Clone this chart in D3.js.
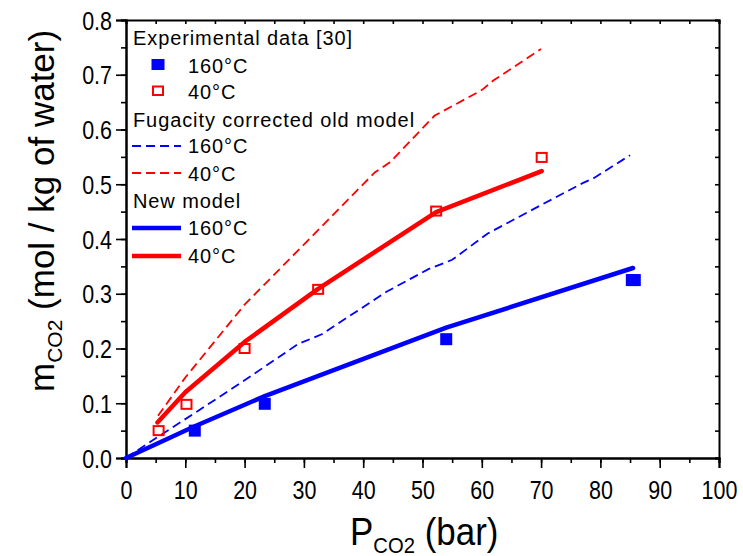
<!DOCTYPE html>
<html>
<head>
<meta charset="utf-8">
<script src="https://cdnjs.cloudflare.com/ajax/libs/d3/7.8.5/d3.min.js"></script>
<style>
  html, body { margin: 0; padding: 0; background: #fff; }
  svg { display: block; font-family: "Liberation Sans", Arial, sans-serif; }
</style>
</head>
<body>
<svg id="chart" width="743" height="556"></svg>
<script>
// ---------- data ----------
const xTicks = [0, 10, 20, 30, 40, 50, 60, 70, 80, 90, 100];
const yTicks = [0.0, 0.1, 0.2, 0.3, 0.4, 0.5, 0.6, 0.7, 0.8];

// Experimental data [30]
const exp160 = [[11.6, 0.050], [23.4, 0.099], [54.0, 0.217], [85.3, 0.325], [85.8, 0.325]];
const exp40  = [[5.5, 0.050], [10.2, 0.098], [20.0, 0.200], [32.4, 0.308], [52.3, 0.451], [70.1, 0.549]];

// Fugacity corrected old model
const old160 = [[0, 0], [6, 0.043], [12, 0.085], [20, 0.142], [29, 0.208], [33, 0.226], [44, 0.304],
                [51, 0.345], [55, 0.362], [61, 0.410], [70, 0.462], [77, 0.502], [79, 0.512], [85, 0.553]];
const old40  = [[5.4, 0.077], [10, 0.147], [20, 0.280], [42, 0.522], [44.5, 0.540], [52, 0.625],
                [60, 0.672], [62, 0.690], [70, 0.747]];

// New model
const new160 = [[0, 0], [11.6, 0.058], [23.4, 0.113], [54.0, 0.238], [85.5, 0.347]];
const new40  = [[5.3, 0.065], [10, 0.120], [20, 0.212], [32.4, 0.309], [52.3, 0.449], [70.1, 0.524]];

const legendHeaders = ["Experimental data [30]", "Fugacity corrected old model", "New model"];
const legendLabels = ["160°C", "40°C"];

// ---------- layout ----------
const L = 126, R = 719, T = 20, B = 458;
const BLUE = "#0000ff", RED = "#ff0000";
const SX = 0.86;           // horizontal condensing of tick glyphs
const TICK_FS = 25;

const svg = d3.select("#chart");
const x = d3.scaleLinear().domain([0, 100]).range([L, R]);
const y = d3.scaleLinear().domain([0, 0.8]).range([B, T]);

const minorX = d3.range(0, 100.001, 5);
const minorY = d3.range(0, 0.8001, 0.05);

// bottom axis
svg.append("g").attr("transform", `translate(0,${B})`)
  .call(d3.axisBottom(x).tickValues(minorX).tickSize(5).tickFormat(""));
const gB2 = svg.append("g").attr("transform", `translate(0,${B})`)
  .call(d3.axisBottom(x).tickValues(xTicks).tickSize(10).tickFormat(d3.format("d")));
// left axis
svg.append("g").attr("transform", `translate(${L},0)`)
  .call(d3.axisLeft(y).tickValues(minorY).tickSize(5).tickFormat(""));
const gL2 = svg.append("g").attr("transform", `translate(${L},0)`)
  .call(d3.axisLeft(y).tickValues(yTicks).tickSize(10).tickFormat(d3.format(".1f")));
// top axis (inward ticks)
svg.append("g").attr("transform", `translate(0,${T})`)
  .call(d3.axisTop(x).tickValues(minorX).tickSize(-4).tickFormat(""));
// right axis (inward ticks)
svg.append("g").attr("transform", `translate(${R},0)`)
  .call(d3.axisRight(y).tickValues(minorY).tickSize(-4).tickFormat(""));

svg.selectAll(".domain").attr("stroke", "#000").attr("stroke-width", 2);
svg.selectAll(".tick line").attr("stroke", "#000").attr("stroke-width", 1.6);
svg.selectAll(".tick text").attr("font-size", TICK_FS).attr("fill", "#000")
  .attr("font-family", "'Liberation Sans', Arial, sans-serif")
  .attr("transform", `scale(${SX},1)`);
gB2.selectAll(".tick text").attr("x", 0).attr("y", 499 - B).attr("dy", 0);
gL2.selectAll(".tick text").attr("x", -14 / SX).attr("y", 0).attr("dy", "0.36em");

// ---------- lines ----------
const line = d3.line().x(d => x(d[0])).y(d => y(d[1]));
const plot = svg.append("g");

plot.append("path").datum(old160).attr("d", line).attr("fill", "none")
  .attr("stroke", BLUE).attr("stroke-width", 1.8).attr("stroke-dasharray", "9,5");
plot.append("path").datum(old40).attr("d", line).attr("fill", "none")
  .attr("stroke", RED).attr("stroke-width", 1.8).attr("stroke-dasharray", "9,5");
plot.append("path").datum(new160).attr("d", line).attr("fill", "none")
  .attr("stroke", BLUE).attr("stroke-width", 4.5).attr("stroke-linejoin", "round").attr("stroke-linecap", "round");
plot.append("path").datum(new40).attr("d", line).attr("fill", "none")
  .attr("stroke", RED).attr("stroke-width", 4.5).attr("stroke-linejoin", "round").attr("stroke-linecap", "round");

// ---------- markers ----------
plot.selectAll(".m160").data(exp160).enter().append("rect")
  .attr("x", d => x(d[0]) - 6).attr("y", d => y(d[1]) - 6)
  .attr("width", 12).attr("height", 12).attr("fill", BLUE);
plot.selectAll(".m40").data(exp40).enter().append("rect")
  .attr("x", d => x(d[0]) - 5).attr("y", d => y(d[1]) - 4.5)
  .attr("width", 10).attr("height", 9).attr("fill", "none")
  .attr("stroke", RED).attr("stroke-width", 2);

// ---------- legend ----------
const leg = svg.append("g").attr("font-size", 20).attr("letter-spacing", "0.9px").attr("fill", "#000");
const hx = 133, ex = 188, sx0 = 132, sx1 = 181, mx = 158;
leg.append("text").attr("x", hx).attr("y", 45).text(legendHeaders[0]);
leg.append("rect").attr("x", mx - 6.5).attr("y", 59).attr("width", 13).attr("height", 11).attr("fill", BLUE);
leg.append("text").attr("x", ex).attr("y", 73).text(legendLabels[0]);
leg.append("rect").attr("x", mx - 5).attr("y", 86.5).attr("width", 10).attr("height", 8.5)
  .attr("fill", "none").attr("stroke", RED).attr("stroke-width", 2);
leg.append("text").attr("x", ex).attr("y", 99).text(legendLabels[1]);

leg.append("text").attr("x", hx).attr("y", 127).text(legendHeaders[1]);
leg.append("line").attr("x1", sx0).attr("x2", sx1).attr("y1", 146).attr("y2", 146)
  .attr("stroke", BLUE).attr("stroke-width", 1.8).attr("stroke-dasharray", "9,5");
leg.append("text").attr("x", ex).attr("y", 153).text(legendLabels[0]);
leg.append("line").attr("x1", sx0).attr("x2", sx1).attr("y1", 173).attr("y2", 173)
  .attr("stroke", RED).attr("stroke-width", 1.8).attr("stroke-dasharray", "9,5");
leg.append("text").attr("x", ex).attr("y", 181).text(legendLabels[1]);

leg.append("text").attr("x", hx).attr("y", 208).text(legendHeaders[2]);
leg.append("line").attr("x1", sx0).attr("x2", sx1).attr("y1", 228).attr("y2", 228)
  .attr("stroke", BLUE).attr("stroke-width", 4.5);
leg.append("text").attr("x", ex).attr("y", 235).text(legendLabels[0]);
leg.append("line").attr("x1", sx0).attr("x2", sx1).attr("y1", 256).attr("y2", 256)
  .attr("stroke", RED).attr("stroke-width", 4.5);
leg.append("text").attr("x", ex).attr("y", 263).text(legendLabels[1]);

// ---------- axis titles ----------
const xt = svg.append("text").attr("transform", "translate(350,545) scale(0.92,1)")
  .attr("font-size", 38).attr("fill", "#000");
xt.append("tspan").text("P");
xt.append("tspan").attr("font-size", 22).attr("dy", 8).text("CO2");
xt.append("tspan").attr("dy", -8).text(" (bar)");

const yt = svg.append("text").attr("transform", "translate(54,392) rotate(-90)")
  .attr("font-size", 35).attr("fill", "#000");
yt.append("tspan").text("m");
yt.append("tspan").attr("font-size", 21).attr("dy", 8).text("CO2");
yt.append("tspan").attr("dy", -8).text(" (mol / kg of water)");
</script>
</body>
</html>
